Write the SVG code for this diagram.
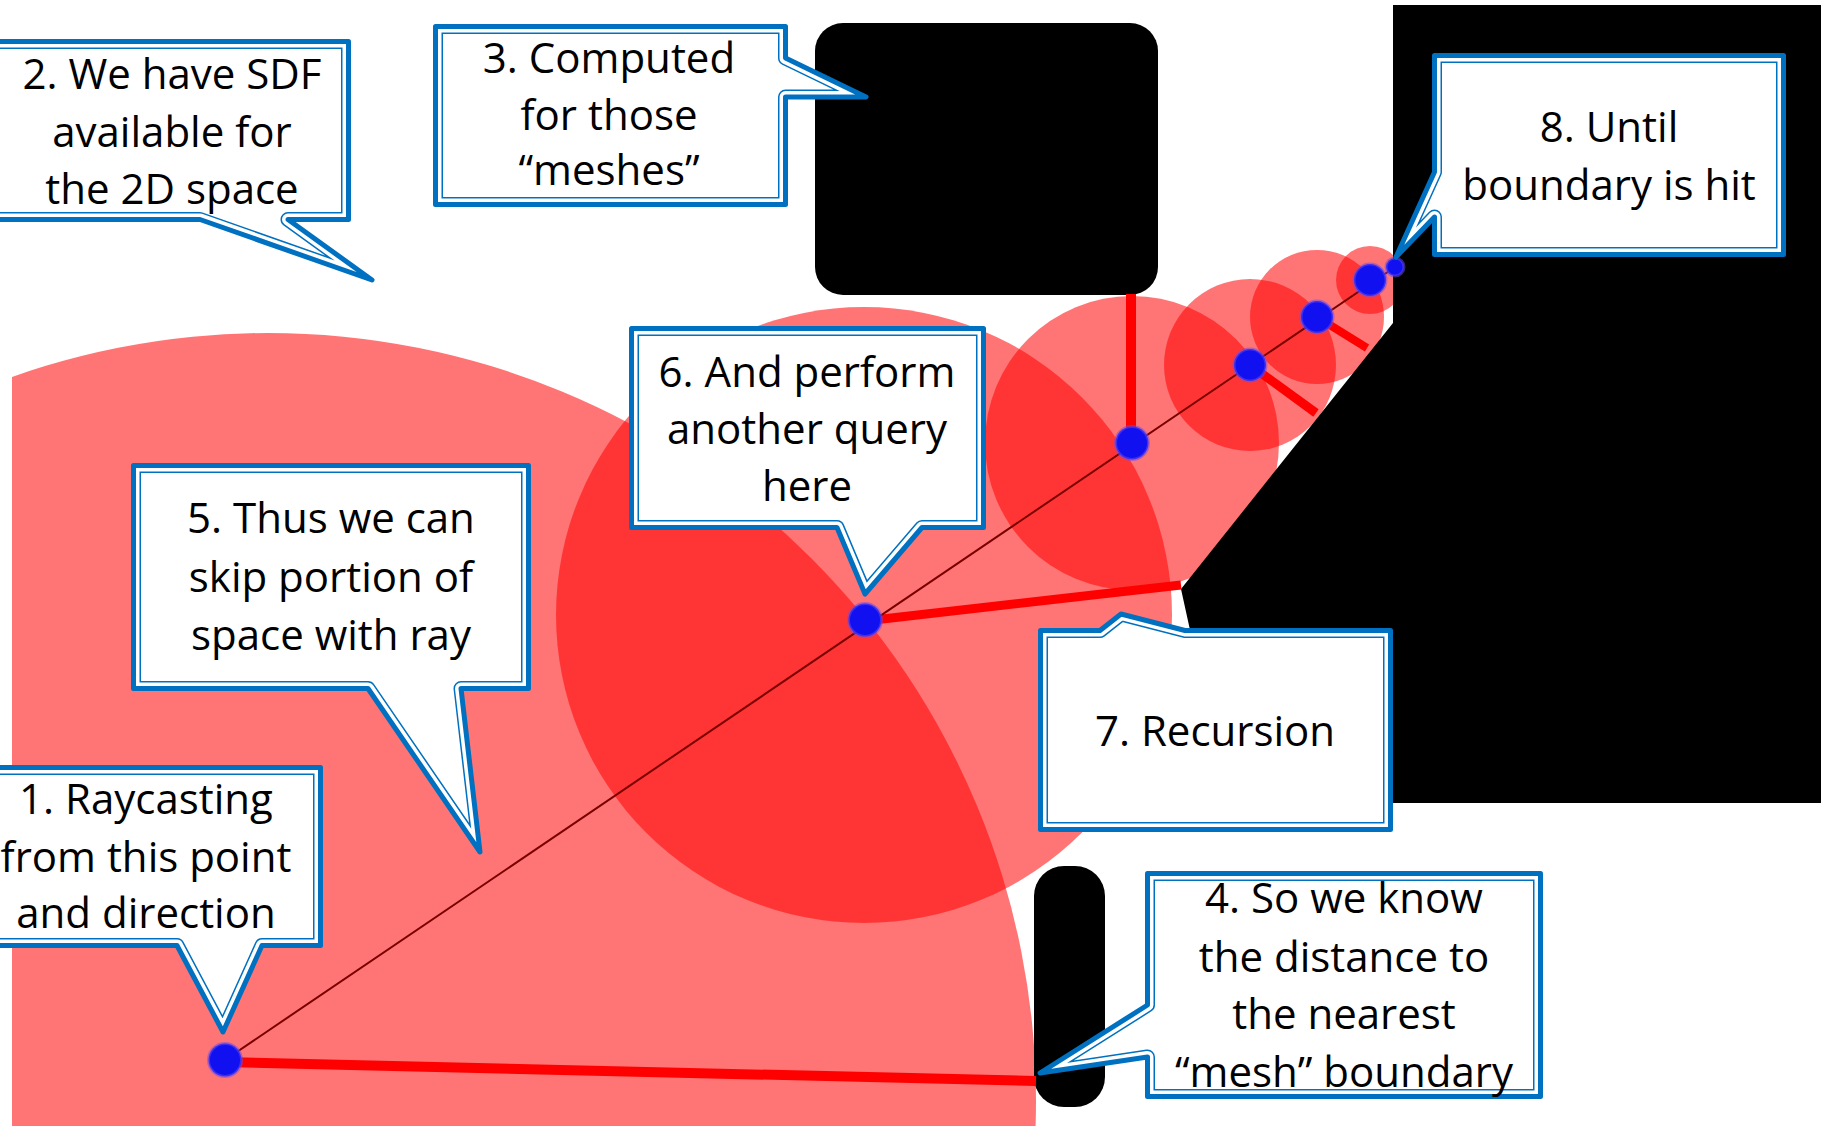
<svg xmlns="http://www.w3.org/2000/svg" xmlns:xlink="http://www.w3.org/1999/xlink" width="1827" height="1126" viewBox="0 0 1827 1126">
  <style>
    .disc { fill: #ff0000; fill-opacity: 0.54; }
    .solid { fill: #000000; }
    .dist { stroke: #ff0000; fill: none; stroke-linecap: butt; }
    .ray { stroke: #7a0000; stroke-width: 2; fill: none; }
    .dot { fill: #1010f0; stroke: #6a4cf0; stroke-opacity: 0.5; stroke-width: 3; }
    .bfill { fill: #ffffff; stroke: none; }
    .band { fill: none; stroke: #0070c0; stroke-width: 15; stroke-linejoin: round; }
    .gap { fill: none; stroke: #ffffff; stroke-width: 12; stroke-linejoin: round; }
    .edge { fill: none; stroke: #0070c0; stroke-width: 5; stroke-linejoin: round; }
    .label { font-family: "Open Sans", "Noto Sans", "Liberation Sans", sans-serif; font-size: 42px; fill: #000000; text-anchor: middle; }
  </style>
  <defs>
    <clipPath id="sceneClip"><rect x="12" y="0" width="1815" height="1126"/></clipPath>
    <!-- callout outlines (centre line of the thick outer border) -->
    <path id="p1" d="M-30,767.5 H320.5 V945.5 H262 L223,1032 L177,945.5 H-30 Z"/>
    <path id="p2" d="M-20,41.5 H348.5 V219.5 H288 L372,280 L200,219.5 H-20 Z"/>
    <path id="p3" d="M435.5,26.5 H785.5 V58 L866,97 L785.5,97 V204.5 H435.5 Z"/>
    <path id="p4" d="M1147.5,873.5 H1540.5 V1096.5 H1147.5 V1057 L1040,1073 L1147.5,1005 Z"/>
    <path id="p5" d="M133.5,465.5 H528.5 V688.5 H461 L480,852 L368,688.5 H133.5 Z"/>
    <path id="p6" d="M631.5,328.5 H983.5 V527.5 H922 L865,594 L837,527.5 H631.5 Z"/>
    <path id="p7" d="M1040.5,630.5 H1100 L1121,614 L1185,630.5 H1390.5 V829.5 H1040.5 Z"/>
    <path id="p8" d="M1434.5,55.5 H1783.5 V254.5 H1434.5 V217 L1396,257 L1434.5,172 Z"/>
    <clipPath id="k1"><use xlink:href="#p1" href="#p1"/></clipPath>
    <clipPath id="k2"><use xlink:href="#p2" href="#p2"/></clipPath>
    <clipPath id="k3"><use xlink:href="#p3" href="#p3"/></clipPath>
    <clipPath id="k4"><use xlink:href="#p4" href="#p4"/></clipPath>
    <clipPath id="k5"><use xlink:href="#p5" href="#p5"/></clipPath>
    <clipPath id="k6"><use xlink:href="#p6" href="#p6"/></clipPath>
    <clipPath id="k7"><use xlink:href="#p7" href="#p7"/></clipPath>
    <clipPath id="k8"><use xlink:href="#p8" href="#p8"/></clipPath>
  </defs>

  <rect x="0" y="0" width="1827" height="1126" fill="#ffffff"/>

  <!-- distance discs around each sample point -->
  <g id="discs">
    <circle class="disc" cx="268" cy="1101" r="768" clip-path="url(#sceneClip)"/>
    <circle class="disc" cx="864" cy="615" r="308"/>
    <circle class="disc" cx="1132" cy="443" r="147"/>
    <circle class="disc" cx="1250" cy="365" r="86"/>
    <circle class="disc" cx="1317" cy="317" r="67"/>
    <circle class="disc" cx="1370" cy="280" r="34"/>
  </g>

  <!-- solid obstacles -->
  <g id="obstacles">
    <rect class="solid" x="815" y="23" width="343" height="272" rx="28"/>
    <path class="solid" d="M1393,5 H1821 V803 H1190 V630 L1181,589 L1393,323 Z"/>
    <rect class="solid" x="1034" y="866" width="71" height="241" rx="30"/>
  </g>

  <!-- ray and nearest-distance segments -->
  <g id="connectors">
    <line class="dist" x1="225" y1="1062" x2="1036" y2="1081" stroke-width="10"/>
    <line class="dist" x1="865" y1="621" x2="1181" y2="585" stroke-width="9"/>
    <line class="dist" x1="1131" y1="443" x2="1131" y2="294" stroke-width="10"/>
    <line class="dist" x1="1250" y1="365" x2="1316" y2="413" stroke-width="9"/>
    <line class="dist" x1="1317" y1="317" x2="1367" y2="348" stroke-width="8"/>
    <line class="ray" x1="225" y1="1060" x2="1395" y2="267"/>
  </g>

  <!-- sample points along the ray -->
  <g id="points">
    <circle class="dot" cx="225" cy="1060" r="16.5"/>
    <circle class="dot" cx="865" cy="620" r="16.5"/>
    <circle class="dot" cx="1132" cy="443" r="16.5"/>
    <circle class="dot" cx="1250" cy="365" r="16"/>
    <circle class="dot" cx="1317" cy="317" r="16"/>
    <circle class="dot" cx="1370" cy="280" r="16"/>
    <circle class="dot" cx="1395" cy="267" r="9"/>
  </g>

  <!-- callouts -->
  <g id="callout-1">
    <use class="bfill" href="#p1"/>
    <use class="band" href="#p1" clip-path="url(#k1)"/>
    <use class="gap" href="#p1" clip-path="url(#k1)"/>
    <use class="edge" href="#p1"/>
    <text class="label" x="146" y="814">1. Raycasting</text>
    <text class="label" x="146" y="872">from this point</text>
    <text class="label" x="146" y="928">and direction</text>
  </g>

  <g id="callout-2">
    <use class="bfill" href="#p2"/>
    <use class="band" href="#p2" clip-path="url(#k2)"/>
    <use class="gap" href="#p2" clip-path="url(#k2)"/>
    <use class="edge" href="#p2"/>
    <text class="label" x="172" y="89">2. We have SDF</text>
    <text class="label" x="172" y="147">available for</text>
    <text class="label" x="172" y="204">the 2D space</text>
  </g>

  <g id="callout-3">
    <use class="bfill" href="#p3"/>
    <use class="band" href="#p3" clip-path="url(#k3)"/>
    <use class="gap" href="#p3" clip-path="url(#k3)"/>
    <use class="edge" href="#p3"/>
    <text class="label" x="609" y="73">3. Computed</text>
    <text class="label" x="609" y="130">for those</text>
    <text class="label" x="609" y="185">“meshes”</text>
  </g>

  <g id="callout-4">
    <use class="bfill" href="#p4"/>
    <use class="band" href="#p4" clip-path="url(#k4)"/>
    <use class="gap" href="#p4" clip-path="url(#k4)"/>
    <use class="edge" href="#p4"/>
    <text class="label" x="1344" y="913">4. So we know</text>
    <text class="label" x="1344" y="972">the distance to</text>
    <text class="label" x="1344" y="1029">the nearest</text>
    <text class="label" x="1344" y="1087">“mesh” boundary</text>
  </g>

  <g id="callout-5">
    <use class="bfill" href="#p5"/>
    <use class="band" href="#p5" clip-path="url(#k5)"/>
    <use class="gap" href="#p5" clip-path="url(#k5)"/>
    <use class="edge" href="#p5"/>
    <text class="label" x="331" y="533">5. Thus we can</text>
    <text class="label" x="331" y="592">skip portion of</text>
    <text class="label" x="331" y="650">space with ray</text>
  </g>

  <g id="callout-6">
    <use class="bfill" href="#p6"/>
    <use class="band" href="#p6" clip-path="url(#k6)"/>
    <use class="gap" href="#p6" clip-path="url(#k6)"/>
    <use class="edge" href="#p6"/>
    <text class="label" x="807" y="387">6. And perform</text>
    <text class="label" x="807" y="444">another query</text>
    <text class="label" x="807" y="501">here</text>
  </g>

  <g id="callout-7">
    <use class="bfill" href="#p7"/>
    <use class="band" href="#p7" clip-path="url(#k7)"/>
    <use class="gap" href="#p7" clip-path="url(#k7)"/>
    <use class="edge" href="#p7"/>
    <text class="label" x="1215" y="746">7. Recursion</text>
  </g>

  <g id="callout-8">
    <use class="bfill" href="#p8"/>
    <use class="band" href="#p8" clip-path="url(#k8)"/>
    <use class="gap" href="#p8" clip-path="url(#k8)"/>
    <use class="edge" href="#p8"/>
    <text class="label" x="1609" y="142">8. Until</text>
    <text class="label" x="1609" y="200">boundary is hit</text>
  </g>
</svg>
